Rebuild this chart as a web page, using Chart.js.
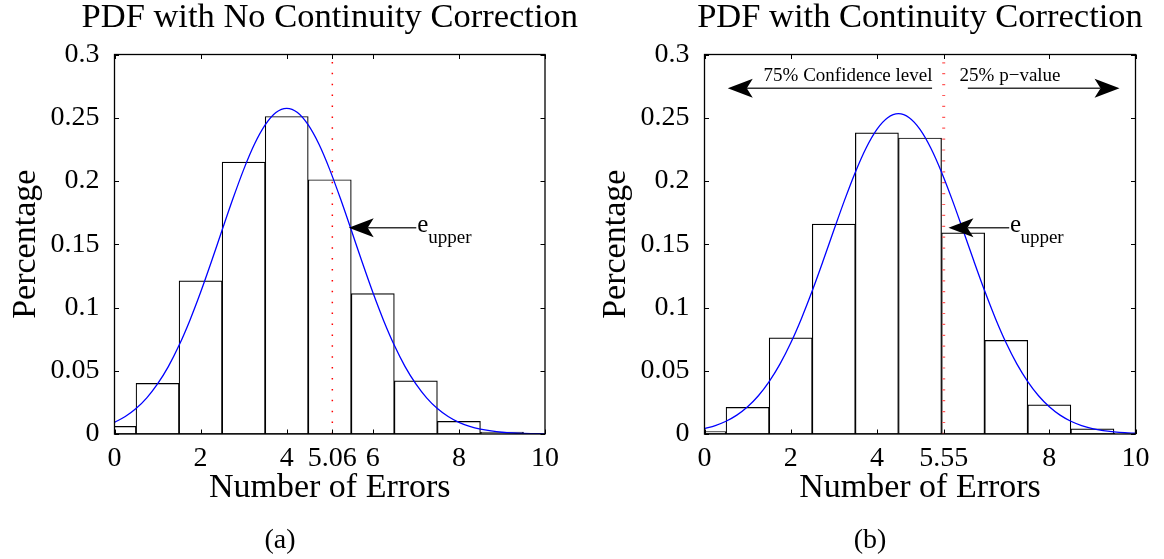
<!DOCTYPE html>
<html>
<head>
<meta charset="utf-8">
<script src="https://cdn.jsdelivr.net/npm/chart.js@4.4.0/dist/chart.umd.min.js"></script>
<style>
  body { margin: 0; background: #fff; width: 1164px; height: 559px; position: relative; overflow: hidden; }
  .panel { position: absolute; top: 0; }
  .caption { position: absolute; top: 525px; font: 28px "Liberation Serif", serif; line-height: 28px; transform: translateX(-50%); color: #000; }
</style>
</head>
<body>
<div class="panel" style="left:0"><canvas id="chartA" width="580" height="559"></canvas></div>
<div class="panel" style="left:590px"><canvas id="chartB" width="574" height="559"></canvas></div>
<div class="caption" style="left:280px">(a)</div>
<div class="caption" style="left:870px">(b)</div>
<script>
// histogram bins (number of errors)
const binCenters = [0, 1, 2, 3, 4, 5, 6, 7, 8, 9, 10];
const pctNoCorrection = [0.006, 0.040, 0.121, 0.215, 0.251, 0.201, 0.111, 0.042, 0.010, 0.0015, 0.0002];
const pctCorrection   = [0.002, 0.021, 0.076, 0.166, 0.238, 0.234, 0.159, 0.074, 0.023, 0.004, 0.0005];

// fitted curves, every 0.25
const curveX = [0, 0.25, 0.5, 0.75, 1, 1.25, 1.5, 1.75, 2, 2.25, 2.5, 2.75, 3, 3.25, 3.5, 3.75,
  4, 4.25, 4.5, 4.75, 5, 5.25, 5.5, 5.75, 6, 6.25, 6.5, 6.75, 7, 7.25, 7.5, 7.75,
  8, 8.25, 8.5, 8.75, 9, 9.25, 9.5, 9.75, 10];
const curveNoCorrection = [0.0092, 0.0138, 0.0201, 0.0286, 0.0396, 0.0533, 0.0701, 0.0898, 0.1120, 0.1361,
  0.1612, 0.1859, 0.2090, 0.2290, 0.2443, 0.2541, 0.2574, 0.2541, 0.2443, 0.2290, 0.2090, 0.1859, 0.1612,
  0.1361, 0.1120, 0.0898, 0.0701, 0.0533, 0.0396, 0.0286, 0.0201, 0.0138, 0.0092, 0.0060, 0.0038, 0.0024,
  0.0014, 0.0008, 0.0005, 0.0003, 0.0001];
const curveCorrection = [0.0043, 0.0067, 0.0101, 0.0149, 0.0215, 0.0302, 0.0414, 0.0552, 0.0719, 0.0914,
  0.1132, 0.1367, 0.1610, 0.1849, 0.2070, 0.2261, 0.2408, 0.2500, 0.2532, 0.2500, 0.2408, 0.2261, 0.2070,
  0.1849, 0.1610, 0.1367, 0.1132, 0.0914, 0.0719, 0.0552, 0.0414, 0.0302, 0.0215, 0.0149, 0.0101, 0.0067,
  0.0043, 0.0027, 0.0017, 0.0010, 0.0006];

const eUpperA = 5.06;
const eUpperB = 5.55;

const xTicksA = [0, 2, 4, 5.06, 6, 8, 10];
const xTicksB = [0, 2, 4, 5.55, 8, 10];
const xTickLabelsA = ['0', '2', '4', '5.06', '6', '8', '10'];
const xTickLabelsB = ['0', '2', '4', '5.55', '8', '10'];
const yTicks = [0, 0.05, 0.1, 0.15, 0.2, 0.25, 0.3];
const yTickLabels = ['0', '0.05', '0.1', '0.15', '0.2', '0.25', '0.3'];

const SERIF = '"Liberation Serif", "Times New Roman", serif';

function drawArrow(ctx, x1, y1, x2, y2) {
    const ang = Math.atan2(y2 - y1, x2 - x1);
    const len = 25, half = 9.5, notch = 19;
    const ux = Math.cos(ang), uy = Math.sin(ang);
    ctx.strokeStyle = '#333';
    ctx.lineWidth = 1.4;
    ctx.beginPath();
    ctx.moveTo(x1, y1);
    ctx.lineTo(x2 - ux * notch, y2 - uy * notch);
    ctx.stroke();
    ctx.fillStyle = '#000';
    ctx.beginPath();
    ctx.moveTo(x2, y2);
    ctx.lineTo(x2 - ux * len - uy * half, y2 - uy * len + ux * half);
    ctx.lineTo(x2 - ux * notch, y2 - uy * notch);
    ctx.lineTo(x2 - ux * len + uy * half, y2 - uy * len - ux * half);
    ctx.closePath();
    ctx.fill();
}

// title, box, inward tick marks, arrows and notes
const decorations = {
    id: 'decorations',
    afterDatasetsDraw(chart, args, opts) {
        const { ctx, chartArea: a, scales: { x, y } } = chart;
        ctx.save();
        ctx.strokeStyle = '#000';
        ctx.lineWidth = 1;
        ctx.beginPath();
        x.ticks.forEach(t => {
            const px = Math.round(x.getPixelForValue(t.value)) + 0.5;
            ctx.moveTo(px, a.top); ctx.lineTo(px, a.top + 4.5);
            ctx.moveTo(px, a.bottom); ctx.lineTo(px, a.bottom - 4.5);
        });
        y.ticks.forEach(t => {
            const py = Math.round(y.getPixelForValue(t.value)) + 0.5;
            ctx.moveTo(a.left, py); ctx.lineTo(a.left + 4.5, py);
            ctx.moveTo(a.right, py); ctx.lineTo(a.right - 4.5, py);
        });
        ctx.stroke();
        ctx.lineWidth = 1.3;
        ctx.strokeRect(a.left, a.top, a.width, a.height);

        (opts.arrows || []).forEach(ar => {
            drawArrow(ctx, x.getPixelForValue(ar.from[0]), y.getPixelForValue(ar.from[1]),
                x.getPixelForValue(ar.to[0]), y.getPixelForValue(ar.to[1]));
        });
        ctx.fillStyle = '#000';
        ctx.textBaseline = 'alphabetic';
        (opts.notes || []).forEach(n => {
            ctx.font = n.size + 'px ' + SERIF;
            ctx.textAlign = n.align || 'left';
            ctx.fillText(n.text, x.getPixelForValue(n.x), y.getPixelForValue(n.y));
        });

        // panel title, centred over the plot box
        ctx.font = '34.5px ' + SERIF;
        ctx.textAlign = 'center';
        ctx.fillText(opts.title, (a.left + a.right) / 2, a.top - 27.2);
        ctx.restore();
    }
};

function makeChart(id, cfg) {
    const ctx = document.getElementById(id);
    const bars = binCenters.map((b, i) => ({ x: b, y: cfg.bars[i] }));
    const curve = curveX.map((v, i) => ({ x: v, y: cfg.curve[i] }));
    return new Chart(ctx, {
        type: 'bar',
        data: {
            datasets: [{
                type: 'line',
                label: 'fit',
                data: curve,
                xAxisID: 'x',
                borderColor: '#0000ff',
                borderWidth: 1.3,
                pointRadius: 0,
                cubicInterpolationMode: 'monotone',
                order: 0
            }, {
                type: 'line',
                label: 'e upper',
                data: [{ x: cfg.eUpper, y: 0 }, { x: cfg.eUpper, y: 0.3 }],
                xAxisID: 'x',
                borderColor: cfg.redColor,
                borderWidth: cfg.redWidth,
                borderDash: cfg.redDash,
                pointRadius: 0,
                order: 1
            }, {
                type: 'bar',
                label: 'histogram',
                data: bars,
                xAxisID: 'xb',
                backgroundColor: '#ffffff',
                borderColor: '#000000',
                borderWidth: 1.2,
                borderSkipped: false,
                grouped: false,
                categoryPercentage: 1,
                barPercentage: 1,
                order: 2
            }]
        },
        options: {
            responsive: false,
            animation: false,
            events: [],
            layout: { padding: { left: 0, top: 54.5, right: cfg.padRight, bottom: 35 } },
            plugins: {
                legend: { display: false },
                tooltip: { enabled: false },
                title: { display: false },
                decorations: { title: cfg.title, arrows: cfg.arrows, notes: cfg.notes }
            },
            scales: {
                x: {
                    type: 'linear',
                    offset: false,
                    min: 0,
                    max: 10,
                    afterBuildTicks: s => { s.ticks = cfg.xTicks.map(v => ({ value: v })); },
                    afterFit: s => { s.height = 90; },
                    grid: { display: false, offset: false },
                    border: { display: false },
                    ticks: {
                        autoSkip: false,
                        maxRotation: 0,
                        minRotation: 0,
                        padding: 0,
                        color: '#000',
                        font: { family: SERIF, size: 28 },
                        callback: (v, i) => cfg.xTickLabels[i]
                    },
                    title: {
                        display: true,
                        text: 'Number of Errors',
                        color: '#000',
                        font: { family: SERIF, size: 34, lineHeight: 1 },
                        padding: { top: 0, bottom: 19 }
                    }
                },
                xb: {
                    type: 'linear',
                    offset: false,
                    min: 0,
                    max: 10,
                    display: false,
                    grid: { offset: false },
                    afterBuildTicks: s => { s.ticks = binCenters.map(v => ({ value: v })); }
                },
                y: {
                    min: 0,
                    max: 0.3,
                    afterBuildTicks: s => { s.ticks = yTicks.map(v => ({ value: v })); },
                    afterFit: s => { s.width = 114.5; },
                    grid: { display: false },
                    border: { display: false },
                    ticks: {
                        padding: 7,
                        color: '#000',
                        font: { family: SERIF, size: 28 },
                        callback: (v, i) => yTickLabels[i]
                    },
                    title: {
                        display: true,
                        text: 'Percentage',
                        color: '#000',
                        font: { family: SERIF, size: 34, lineHeight: 1 },
                        padding: { top: 9, bottom: 0 }
                    }
                }
            }
        },
        plugins: [decorations]
    });
}

makeChart('chartA', {
    title: 'PDF with No Continuity Correction',
    bars: pctNoCorrection,
    curve: curveNoCorrection,
    eUpper: eUpperA,
    redColor: '#ff0000',
    redWidth: 1.5,
    redDash: [1.5, 9.4],
    xTicks: xTicksA,
    xTickLabels: xTickLabelsA,
    padRight: 35,
    arrows: [{ from: [7.01, 0.163], to: [5.44, 0.163] }],
    notes: [
        { text: 'e', x: 7.03, y: 0.1599, size: 25 },
        { text: 'upper', x: 7.29, y: 0.151, size: 19 }
    ]
});

makeChart('chartB', {
    title: 'PDF with Continuity Correction',
    bars: pctCorrection,
    curve: curveCorrection,
    eUpper: eUpperB,
    redColor: '#ff5a5a',
    redWidth: 3,
    redDash: [1.2, 9.7],
    xTicks: xTicksB,
    xTickLabels: xTickLabelsB,
    padRight: 28.5,
    arrows: [
        { from: [7.07, 0.163], to: [5.66, 0.163] },
        { from: [5.28, 0.2733], to: [0.54, 0.2733] },
        { from: [6.11, 0.2733], to: [9.63, 0.2733] }
    ],
    notes: [
        { text: 'e', x: 7.09, y: 0.1599, size: 25 },
        { text: 'upper', x: 7.33, y: 0.151, size: 19 },
        { text: '75% Confidence level', x: 3.33, y: 0.2793, size: 19, align: 'center' },
        { text: '25% p\u2212value', x: 7.09, y: 0.2793, size: 19, align: 'center' }
    ]
});
</script>
</body>
</html>
